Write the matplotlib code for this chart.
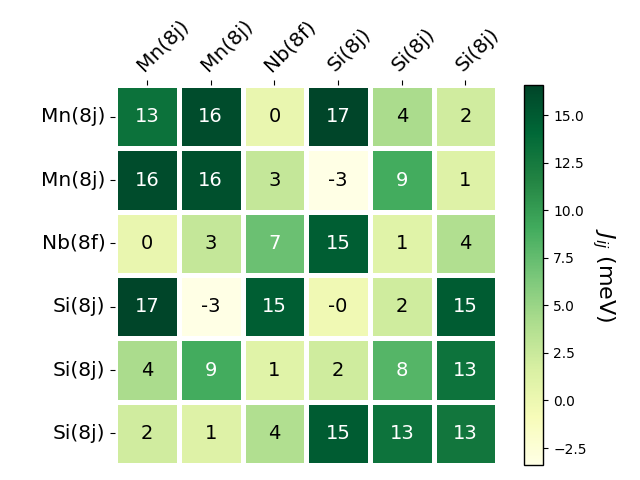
import numpy as np
import matplotlib
matplotlib.use("Agg")
import matplotlib.pyplot as plt
import seaborn as sns

labels = ["Mn(8j)", "Mn(8j)", "Nb(8f)", "Si(8j)", "Si(8j)", "Si(8j)"]
row0 = [13.2, 16.1, 0.3, 16.6, 4.2, 2.1]
row1 = [16.1, 15.8, 2.8, -3.4, 9.0, 1.2]
row2 = [0.3, 2.8, 7.2, 14.8, 1.0, 3.9]
row3 = [16.6, -3.4, 14.8, -0.3, 2.2, 14.9]
row4 = [4.2, 9.0, 1.0, 2.2, 8.2, 13.1]
row5 = [2.1, 1.2, 3.9, 14.9, 13.1, 12.8]
J = np.array([row0, row1, row2, row3, row4, row5])

fig = plt.figure(figsize=(6.4, 4.8), dpi=100)
ax = fig.add_axes([0.18, 0.031, 0.597, 0.792])
cax = fig.add_axes([0.819, 0.031, 0.03, 0.792])

sns.heatmap(J, ax=ax, cbar_ax=cax, cmap="YlGn", annot=False,
            linewidths=2.5, linecolor="white",
            xticklabels=labels, yticklabels=labels)
mid = (J.min() + J.max()) / 2
for i in range(J.shape[0]):
    for j in range(J.shape[1]):
        v = J[i, j]
        ax.text(j + 0.5, i + 0.5, f"{v:.0f}", ha="center", va="center",
                fontsize=14, color="white" if v > mid else "black")
ax.xaxis.tick_top()
ax.set_xticklabels(labels, rotation=45, ha="left", rotation_mode="anchor", fontsize=14.5)
ax.set_yticklabels(labels, rotation=0, fontsize=14.5)
cb = ax.collections[0].colorbar
cb.outline.set_visible(True)
cb.outline.set_edgecolor("black")
cb.outline.set_linewidth(1)
cb.set_label("$J_{ij}$ (meV)", rotation=270, fontsize=16, labelpad=22)
cb.ax.tick_params(labelsize=10)

fig.savefig("out.png", dpi=100)
